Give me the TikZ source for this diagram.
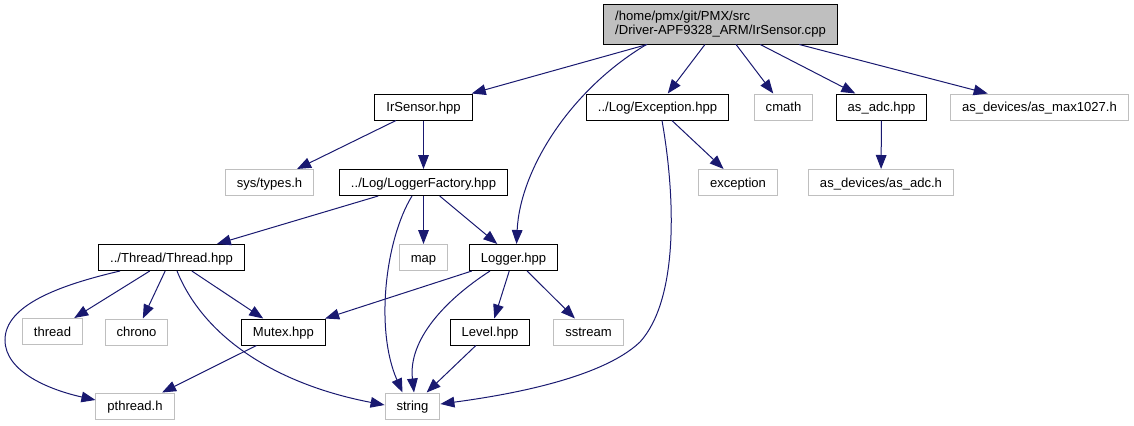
\documentclass[tikz,border=0pt]{standalone}
\usepackage{fontspec}
\setmainfont{Liberation Sans}
\usetikzlibrary{arrows.meta,calc}
\definecolor{edgeblue}{HTML}{191970}
\definecolor{lgray}{HTML}{BFBFBF}
\begin{document}
\begin{tikzpicture}[x=0.75pt,y=-0.75pt,
  dbox/.style={draw=black, line width=0.75pt, inner xsep=8.6pt, inner ysep=0pt,
    minimum height=19.5pt, text height=8pt, text depth=1.2pt,
    font=\fontsize{9.8}{10.2}\selectfont},
  extbox/.style={dbox, draw=lgray},
  mainbox/.style={draw=black, fill=lgray, line width=0.75pt, inner xsep=8.6pt,
    minimum height=30pt, align=left, font=\fontsize{9.8}{10.2}\selectfont},
  depline/.style={draw=edgeblue, line width=0.75pt, -{Triangle[length=10.5pt,width=8pt]}}]
\useasboundingbox (0,0) rectangle (1134,425);

\node[mainbox] (top) at (720.5,24) {/home/pmx/git/PMX/src\\/Driver-APF9328\_ARM/IrSensor.cpp};
\node[dbox] (irs) at (423.5,107) {IrSensor.hpp};
\node[dbox] (exc) at (657.5,107) {../Log/Exception.hpp};
\node[extbox] (cmath) at (783.5,107) {cmath};
\node[dbox] (asadc) at (881.5,107) {as\_adc.hpp};
\node[extbox] (max) at (1039.5,107) {as\_devices/as\_max1027.h};
\node[extbox] (systypes) at (269.5,182.5) {sys/types.h};
\node[dbox] (lf) at (423.5,182.5) {../Log/LoggerFactory.hpp};
\node[extbox] (exception) at (738,182.5) {exception};
\node[extbox] (asadch) at (881,182.5) {as\_devices/as\_adc.h};
\node[dbox] (thr) at (171.5,257.5) {../Thread/Thread.hpp};
\node[extbox] (map) at (423.5,257.5) {map};
\node[dbox] (logger) at (513.5,257.5) {Logger.hpp};
\node[extbox] (thread) at (52.5,331.5) {thread};
\node[extbox] (chrono) at (136.5,332) {chrono};
\node[dbox] (mutex) at (283.5,332) {Mutex.hpp};
\node[dbox] (level) at (490,332) {Level.hpp};
\node[extbox] (sstream) at (588.5,332) {sstream};
\node[extbox] (pthread) at (135,406) {pthread.h};
\node[extbox] (string) at (412.5,406) {string};

% straight edges
\draw[depline] (top) -- (irs);
\draw[depline] (top) -- (exc);
\draw[depline] (top) -- (cmath);
\draw[depline] (top) -- (asadc);
\draw[depline] (top) -- (max);
\draw[depline] (irs) -- (systypes);
\draw[depline] (irs) -- (lf);
\draw[depline] (exc) -- (exception);
\draw[depline] (asadc) -- (asadch);
\draw[depline] (lf) -- (thr);
\draw[depline] (lf) -- (map);
\draw[depline] (lf) -- (logger);
\draw[depline] (thr) -- (thread);
\draw[depline] (thr) -- (chrono);
\draw[depline] (thr) -- (mutex);
\draw[depline] (logger) -- (mutex);
\draw[depline] (logger) -- (level);
\draw[depline] (logger) -- (sstream);
\draw[depline] (mutex) -- (pthread);
\draw[depline] (level) -- (string);

% curved edges
\draw[depline] ($(top.south)+(-74,0)$) .. controls (570,90) and (520,170) .. ($(logger.north)+(3,0)$);
\draw[depline] ($(exc.south)+(4.5,0)$) .. controls (676,200) and (678,300) .. (640,342)
   .. controls (600,380) and (500,396) .. ($(string.east)+(0,-2)$);
\draw[depline] ($(lf.south)+(-11.5,0)$) .. controls (385,240) and (375,330) .. ($(string.north)+(-10,0)$);
\draw[depline] ($(logger.south)+(-23.5,0)$) .. controls (445,300) and (408,340) .. ($(string.north)+(1.5,0)$);
\draw[depline] ($(thr.south)+(5.5,0)$) .. controls (205,340) and (280,385) .. ($(string.west)+(0,-1)$);
\draw[depline] ($(thr.south)+(-51.5,0)$) .. controls (60,285) and (5,305) .. (5,340)
   .. controls (5,372) and (50,390) .. ($(pthread.west)+(0,-6)$);
\end{tikzpicture}
\end{document}
